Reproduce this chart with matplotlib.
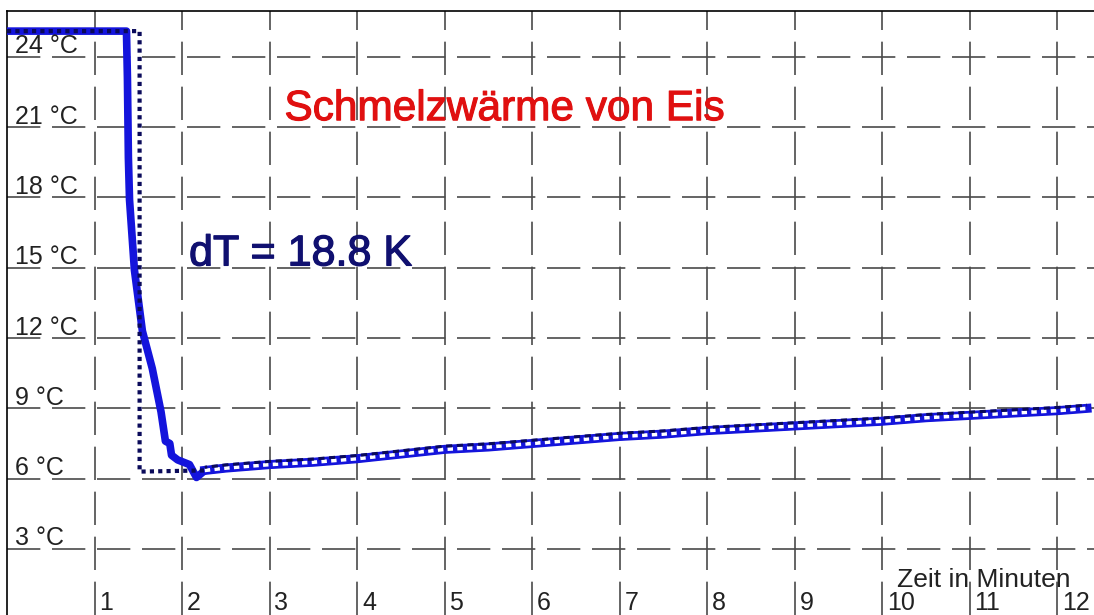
import matplotlib
matplotlib.use('Agg')
import matplotlib.pyplot as plt
import matplotlib.transforms as mtransforms
import matplotlib.patheffects as pe

plt.rcParams['font.family'] = ['Liberation Sans', 'DejaVu Sans']

# measured temperature (blue curve)
zeit = [0.0, 1.365, 1.376, 1.387, 1.40, 1.456, 1.547, 1.66, 1.76, 1.81, 1.86, 1.88, 1.95,
        2.085, 2.165, 2.26, 2.5, 3.0, 3.5, 4.0, 4.5, 5.0, 5.5, 6.0, 6.5, 7.0, 7.5, 8.0,
        8.5, 9.0, 9.5, 10.0, 10.5, 11.0, 11.5, 12.0, 12.34]
temp = [25.1, 25.1, 23.1, 19.7, 17.9, 14.9, 12.3, 10.7, 8.85, 7.6, 7.5, 7.0, 6.8,
        6.6, 6.05, 6.35, 6.45, 6.6, 6.7, 6.85, 7.05, 7.25, 7.35, 7.5, 7.65, 7.8, 7.9, 8.05,
        8.15, 8.25, 8.35, 8.45, 8.6, 8.7, 8.8, 8.9, 9.0]

# construction line (dotted), dT = 25.1 - 6.3 = 18.8 K
hilf_x = [0.0, 1.515, 1.515, 2.26]
hilf_y = [25.1, 25.1, 6.3, 6.35]

x_ticks = list(range(1, 13))
y_ticks = list(range(3, 25, 3))

fig = plt.figure(figsize=(10.94, 6.15), dpi=100)
ax = fig.add_axes([7 / 1094, 0, 1 - 7 / 1094, 604.5 / 615])
ax.set_xlim(0.0, 12.42)
ax.set_ylim(0.18, 25.98)

for s in ['right', 'bottom']:
    ax.spines[s].set_visible(False)
for s in ['top', 'left']:
    ax.spines[s].set_linewidth(1.2)
ax.set_xticks(x_ticks)
ax.set_yticks(y_ticks)
ax.tick_params(length=0, labelbottom=False, labelleft=False)
ax.grid(True, color='#4a4a4a', linewidth=1.2, linestyle=(0, (20, 7)))
ax.set_axisbelow(True)

# blue measurement curve
ax.plot(zeit, temp, color='#1414dc', linewidth=5.5, solid_joinstyle='round',
        solid_capstyle='round', zorder=3)

# the slow rise is drawn as a band with white holes and navy dots
rise = [i for i, z in enumerate(zeit) if z >= 2.26]
rx = [zeit[i] for i in rise]
ry = [temp[i] for i in rise]
ax.plot(rx, ry, color='#1414dc', linewidth=6.5, zorder=3)
ax.plot(rx, ry, color='white', linewidth=2.6, linestyle=(0, (1.5, 1.2)), zorder=4)
up = mtransforms.offset_copy(ax.transData, fig=fig, y=2.3, units='points')
ax.plot(rx, ry, color='#0a0a5a', linewidth=2.2, linestyle=(1.2, (2, 1.5)),
        transform=up, zorder=5)

# dotted construction line
ax.plot(hilf_x, hilf_y, color='#0a0a5a', linewidth=3.0, linestyle=(0, (1, 1)), zorder=5)

# axis labels inside the plot
for v in y_ticks:
    ax.text(0.09, v + 0.15, f'{v} °C', fontsize=18, color='#222222',
            ha='left', va='baseline')
for v in x_ticks:
    ax.text(v + 0.055, 0.4, str(v), fontsize=18, color='#222222',
            ha='left', va='baseline')
ax.text(10.17, 1.38, 'Zeit in Minuten', fontsize=19, color='#222222',
        ha='left', va='baseline')

ax.text(3.17, 21.3, 'Schmelzwärme von Eis', fontsize=30.5, color='#e01010',
        ha='left', va='baseline',
        path_effects=[pe.withStroke(linewidth=0.8, foreground='#e01010')])
ax.text(2.08, 15.1, 'dT = 18.8 K', fontsize=31, color='#101070',
        ha='left', va='baseline',
        path_effects=[pe.withStroke(linewidth=0.9, foreground='#101070')])

fig.savefig('out.png', dpi=100)
